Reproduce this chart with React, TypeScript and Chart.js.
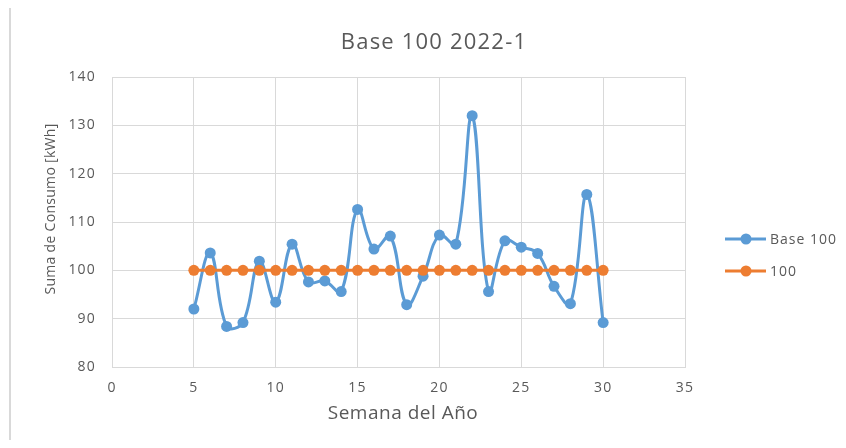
import React, { useEffect, useRef } from "react";
import { Chart, registerables } from "chart.js";

Chart.register(...registerables);

const chartTitle = "Base 100 2022-1";
const xAxisTitle = "Semana del Año";
const yAxisTitle = "Suma de Consumo [kWh]";
const seriesNames = ["Base 100", "100"];

const weeks = [5, 6, 7, 8, 9, 10, 11, 12, 13, 14, 15, 16, 17, 18, 19, 20, 21, 22, 23, 24, 25, 26, 27, 28, 29, 30];
const base100 = [92.0, 103.6, 88.4, 89.2, 101.9, 93.4, 105.4, 97.6, 97.8, 95.6, 112.6, 104.4, 107.1, 92.9, 98.8, 107.3, 105.4, 132.0, 95.6, 106.1, 104.8, 103.5, 96.7, 93.1, 115.7, 89.2];
const reference = [100, 100, 100, 100, 100, 100, 100, 100, 100, 100, 100, 100, 100, 100, 100, 100, 100, 100, 100, 100, 100, 100, 100, 100, 100, 100];

const xTicksMin = 0;
const xTicksMax = 35;
const xTicksStep = 5;
const yTicksMin = 80;
const yTicksMax = 140;
const yTicksStep = 10;

const BLUE = "#5B9BD5";
const ORANGE = "#ED7D31";
const TEXT = "#595959";
const GRID = "#d9d9d9";
const FONT = "'Open Sans', Lato, sans-serif";

export default function App() {
  const ref = useRef<HTMLCanvasElement | null>(null);

  useEffect(() => {
    if (!ref.current) return;
    const textPlugin = {
      id: "excelTexts",
      beforeDraw(chart: any) {
        (chart.ctx as any).letterSpacing = "1.2px";
      },
      afterDraw(chart: any) {
        const ctx = chart.ctx as any;
        ctx.save();
        ctx.fillStyle = TEXT;
        ctx.textBaseline = "alphabetic";
        ctx.textAlign = "center";
        // title
        ctx.font = `22px ${FONT}`;
        ctx.letterSpacing = "1.2px";
        ctx.fillText(chartTitle, 434, 49);
        // x axis title
        ctx.font = `19px ${FONT}`;
        ctx.letterSpacing = "0.5px";
        ctx.fillText(xAxisTitle, 403, 419);
        // y axis title
        ctx.save();
        ctx.translate(55, 209);
        ctx.rotate(-Math.PI / 2);
        ctx.font = `14px ${FONT}`;
        ctx.letterSpacing = "0.3px";
        ctx.fillText(yAxisTitle, 0, 0);
        ctx.restore();
        // legend
        const items = [
          { name: seriesNames[0], color: BLUE, y: 239 },
          { name: seriesNames[1], color: ORANGE, y: 271 },
        ];
        ctx.font = `14px ${FONT}`;
        ctx.letterSpacing = "1px";
        ctx.textAlign = "left";
        for (const it of items) {
          ctx.strokeStyle = it.color;
          ctx.lineWidth = 3;
          ctx.beginPath();
          ctx.moveTo(725, it.y);
          ctx.lineTo(766, it.y);
          ctx.stroke();
          ctx.fillStyle = it.color;
          ctx.beginPath();
          ctx.arc(746, it.y, 5.5, 0, Math.PI * 2);
          ctx.fill();
          ctx.fillStyle = TEXT;
          ctx.fillText(it.name, 770, it.y + 5);
        }
        ctx.restore();
        ctx.letterSpacing = "0px";
      },
    };

    const chart = new Chart(ref.current, {
      type: "line",
      data: {
        datasets: [
          {
            label: seriesNames[0],
            data: weeks.map((w, i) => ({ x: w, y: base100[i] })),
            borderColor: BLUE,
            backgroundColor: BLUE,
            borderWidth: 3,
            pointRadius: 5.5,
            pointBorderWidth: 0,
            tension: 0.4,
            order: 2,
          },
          {
            label: seriesNames[1],
            data: weeks.map((w, i) => ({ x: w, y: reference[i] })),
            borderColor: ORANGE,
            backgroundColor: ORANGE,
            borderWidth: 3,
            pointRadius: 5.5,
            pointBorderWidth: 0,
            tension: 0,
            order: 1,
          },
        ],
      },
      options: {
        responsive: false,
        animation: false,
        layout: { padding: { left: 0, top: 77, right: 846 - 685, bottom: 0 } },
        plugins: {
          legend: { display: false },
          title: { display: false },
          tooltip: { enabled: false },
        },
        scales: {
          x: {
            type: "linear",
            min: xTicksMin,
            max: xTicksMax,
            ticks: { stepSize: xTicksStep, color: TEXT, font: { family: FONT, size: 14 }, padding: 13, maxRotation: 0 },
            grid: { color: GRID, lineWidth: 1, drawTicks: false },
            border: { color: GRID, width: 1 },
            afterFit: (scale: any) => {
              scale.height = 448 - 367;
            },
          },
          y: {
            type: "linear",
            min: yTicksMin,
            max: yTicksMax,
            ticks: { stepSize: yTicksStep, color: TEXT, font: { family: FONT, size: 14 }, padding: 16 },
            grid: { color: GRID, lineWidth: 1, drawTicks: false },
            border: { color: GRID, width: 1 },
            afterFit: (scale: any) => {
              scale.width = 112;
            },
          },
        },
      },
      plugins: [textPlugin],
    });
    return () => chart.destroy();
  }, []);

  return (
    <div style={{ position: "relative", width: 846, height: 448, margin: -8, overflow: "hidden", background: "#fff" }}>
      <div
        style={{
          position: "absolute",
          left: 9,
          top: 6,
          width: 900,
          height: 500,
          border: `2px solid ${GRID}`,
          boxSizing: "border-box",
        }}
      />
      <canvas ref={ref} width={846} height={448} style={{ position: "absolute", left: 0, top: 0 }} />
    </div>
  );
}
